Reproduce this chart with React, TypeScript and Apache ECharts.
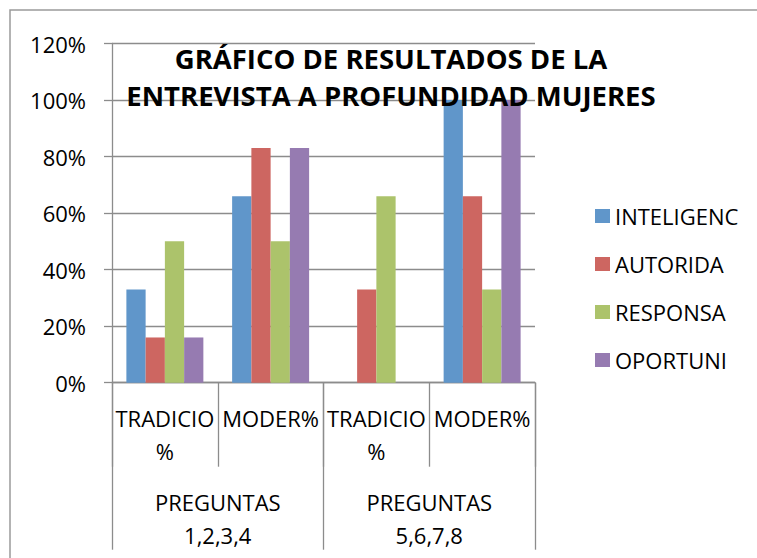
import React, { useEffect, useRef } from "react";
import * as echarts from "echarts";

const categories = ["TRADICIO\n%", "MODER%", "TRADICIO\n%", "MODER%"];
const groups = ["PREGUNTAS\n1,2,3,4", "PREGUNTAS\n5,6,7,8"];
const seriesNames = ["INTELIGENC", "AUTORIDA", "RESPONSA", "OPORTUNI"];
const inteligenc = [0.33, 0.66, 0, 1.0];
const autorida = [0.16, 0.83, 0.33, 0.66];
const responsa = [0.5, 0.5, 0.66, 0.33];
const oportuni = [0.16, 0.83, 0, 1.0];
const colors = ["#6096CA", "#CD6661", "#ACC36B", "#967BB1"];
const titleText = "GRÁFICO DE RESULTADOS DE LA\nENTREVISTA A PROFUNDIDAD MUJERES";

const FONT = "'Open Sans', 'Noto Sans', sans-serif";
const GRAY = "#8c8c8c";

export default function App() {
  const ref = useRef<HTMLDivElement>(null);
  useEffect(() => {
    document.body.style.margin = "0";
    const chart = echarts.init(ref.current!, null, { renderer: "svg" });
    const values = [inteligenc, autorida, responsa, oportuni];
    chart.setOption({
      animation: false,
      backgroundColor: "#ffffff",
      textStyle: { fontFamily: FONT },
      grid: { left: 112, right: 222, top: 43.5, bottom: 175.3, containLabel: false },
      legend: {
        orient: "vertical",
        left: 590,
        top: 199,
        itemWidth: 15,
        itemHeight: 14,
        itemGap: 24,
        icon: "rect",
        data: seriesNames,
        textStyle: { fontSize: 22, color: "#000", fontFamily: FONT, lineHeight: 24 },
      },
      xAxis: [
        {
          type: "category",
          data: categories,
          position: "bottom",
          axisLine: { show: true, lineStyle: { color: GRAY, width: 1.3 } },
          axisTick: { show: true, length: 84, interval: 0, lineStyle: { color: GRAY, width: 1.3 } },
          axisLabel: {
            interval: 0,
            margin: 19,
            fontSize: 22,
            lineHeight: 33,
            color: "#000",
            fontFamily: FONT,
            verticalAlign: "top",
          },
          splitLine: { show: false },
        },
        {
          type: "category",
          data: groups,
          position: "bottom",
          gridIndex: 0,
          axisLine: { show: false },
          axisTick: { show: true, length: 167, interval: 0, lineStyle: { color: GRAY, width: 1.3 } },
          axisLabel: {
            interval: 0,
            margin: 103,
            fontSize: 22,
            lineHeight: 33,
            color: "#000",
            fontFamily: FONT,
            verticalAlign: "top",
          },
          splitLine: { show: false },
        },
      ],
      yAxis: {
        type: "value",
        min: 0,
        max: 1.2,
        interval: 0.2,
        axisLine: { show: true, lineStyle: { color: GRAY, width: 1.3 } },
        axisTick: { show: true, length: 8, lineStyle: { color: GRAY, width: 1.3 } },
        axisLabel: {
          margin: 26,
          fontSize: 22,
          color: "#000",
          fontFamily: FONT,
          padding: [6, 0, 0, 0],
          formatter: (v: number) => Math.round(v * 100) + "%",
        },
        splitLine: { show: true, lineStyle: { color: GRAY, width: 1.3 } },
      },
      series: seriesNames.map((name, i) => ({
        name,
        type: "bar",
        xAxisIndex: 0,
        data: values[i],
        barGap: "0%",
        barCategoryGap: "27.2%",
        itemStyle: { color: colors[i] },
      })),
      graphic: [
        {
          type: "rect",
          shape: { x: 10, y: 10, width: 800, height: 600 },
          style: { fill: "none", stroke: "#9a9a9a", lineWidth: 1.5 },
          silent: true,
          z: -10,
        },
        {
          type: "text",
          x: 391,
          y: 40,
          z: 100,
          style: {
            text: titleText,
            textAlign: "center",
            textVerticalAlign: "top",
            fontFamily: FONT,
            fontWeight: "bold",
            fontSize: 27.5,
            lineHeight: 37,
            fill: "#000",
          },
        },
      ],
    });
    return () => chart.dispose();
  }, []);
  return <div ref={ref} style={{ width: 757, height: 558 }} />;
}
